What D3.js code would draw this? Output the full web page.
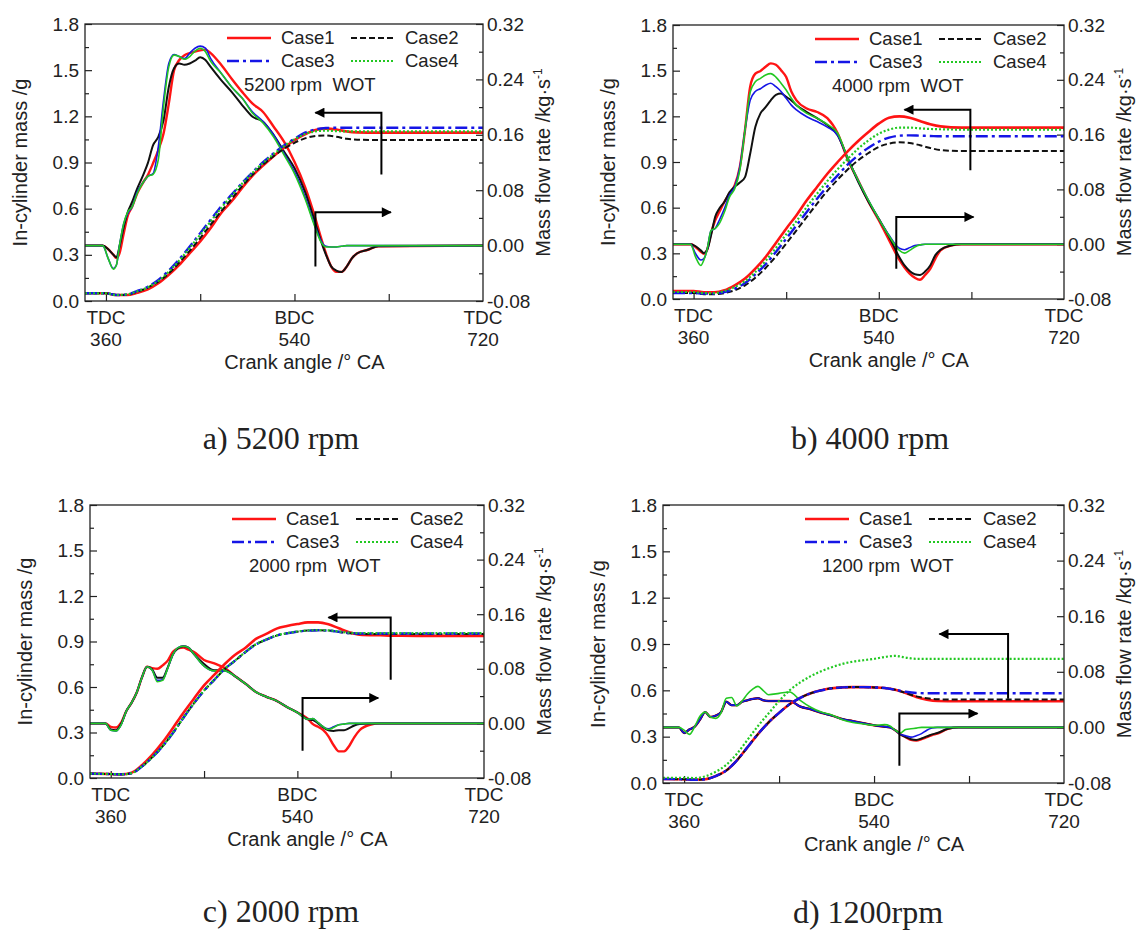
<!DOCTYPE html>
<html>
<head>
<meta charset="utf-8">
<script src="https://cdn.jsdelivr.net/npm/d3@7"></script>
<style>
  body { margin: 0; background: #fff; }
  svg text { font-family: "Liberation Sans", Arial, sans-serif; fill: #222; }
  svg text.caption { font-family: "Liberation Serif", "Times New Roman", serif; }
</style>
</head>
<body>
<div id="container"></div>
<script>
// Case names, axis ticks and labels
const cases = ["Case1", "Case2", "Case3", "Case4"];
const massTicks = [0, 0.3, 0.6, 0.9, 1.2, 1.5, 1.8];
const massMinorTicks = [0.15, 0.45, 0.75, 1.05, 1.35, 1.65];
const flowTicks = [-0.08, 0, 0.08, 0.16, 0.24, 0.32];
const flowMinorTicks = [-0.04, 0.04, 0.12, 0.2, 0.28];
const angleTicks = [360, 450, 540, 630];
const angleLabels = [360, 540, 720];
const deadCentres = ["TDC", "BDC", "TDC"];

const massAngles = [340, 360, 370, 380, 390, 400, 410, 420, 430, 440, 450, 460, 470, 480, 490, 500, 510, 520, 530, 540, 550, 560, 570, 580, 590, 600, 620, 640, 680, 720];
const flowAnglesAB = [340, 357, 362, 367, 370, 373, 377, 381, 385, 390, 395, 400, 405, 410, 415, 420, 425, 430, 435, 440, 445, 450, 455, 460, 470, 480, 490, 500, 510, 520, 530, 540, 550, 560, 565, 570, 575, 580, 585, 590, 595, 600, 610, 620, 720];
const flowAnglesCD = [340, 355, 360, 365, 370, 375, 380, 385, 390, 395, 400, 405, 410, 415, 420, 425, 430, 435, 440, 450, 460, 470, 480, 490, 500, 510, 520, 530, 540, 550, 555, 560, 565, 570, 575, 580, 585, 590, 595, 600, 610, 620, 720];

// a) 5200 rpm - mass flow rate (kg/s)
const flowA1 = [0, 0, -0.005, -0.013, -0.018, -0.011, 0.018, 0.044, 0.056, 0.076, 0.090, 0.102, 0.119, 0.138, 0.162, 0.205, 0.253, 0.268, 0.275, 0.278, 0.280, 0.282, 0.283, 0.278, 0.261, 0.241, 0.222, 0.205, 0.193, 0.172, 0.150, 0.121, 0.085, 0.039, 0.013, -0.011, -0.030, -0.038, -0.038, -0.030, -0.018, -0.011, -0.006, -0.001, 0];
const flowA2 = [0, 0, -0.005, -0.013, -0.017, -0.001, 0.027, 0.049, 0.063, 0.083, 0.100, 0.119, 0.145, 0.157, 0.181, 0.229, 0.256, 0.263, 0.261, 0.263, 0.267, 0.272, 0.268, 0.258, 0.239, 0.222, 0.203, 0.186, 0.179, 0.160, 0.136, 0.112, 0.078, 0.032, 0.008, -0.013, -0.030, -0.036, -0.038, -0.030, -0.018, -0.011, -0.006, -0.001, 0];
const flowA3 = [0, 0, -0.018, -0.033, -0.028, 0.001, 0.032, 0.047, 0.056, 0.078, 0.090, 0.100, 0.104, 0.143, 0.210, 0.263, 0.276, 0.273, 0.270, 0.278, 0.285, 0.288, 0.285, 0.270, 0.249, 0.229, 0.213, 0.193, 0.179, 0.160, 0.133, 0.107, 0.071, 0.027, 0.008, -0.001, -0.002, -0.002, -0.001, 0, 0, 0, 0, 0, 0];
const flowA4 = [0, 0, -0.018, -0.034, -0.028, 0.001, 0.032, 0.049, 0.056, 0.076, 0.090, 0.100, 0.103, 0.124, 0.201, 0.258, 0.275, 0.273, 0.269, 0.273, 0.281, 0.285, 0.280, 0.266, 0.249, 0.229, 0.213, 0.191, 0.177, 0.157, 0.131, 0.104, 0.068, 0.025, 0.006, -0.002, -0.002, -0.002, -0.001, 0, 0, 0, 0, 0, 0];
// a) 5200 rpm - in-cylinder mass (g)
const massA1 = [0.050, 0.050, 0.039, 0.039, 0.054, 0.076, 0.115, 0.170, 0.235, 0.311, 0.387, 0.474, 0.572, 0.648, 0.735, 0.815, 0.880, 0.941, 0.996, 1.046, 1.083, 1.111, 1.120, 1.115, 1.102, 1.096, 1.094, 1.094, 1.094, 1.094];
const massA2 = [0.050, 0.050, 0.039, 0.041, 0.061, 0.087, 0.126, 0.180, 0.250, 0.326, 0.409, 0.496, 0.583, 0.663, 0.746, 0.822, 0.887, 0.941, 0.989, 1.028, 1.057, 1.072, 1.076, 1.067, 1.054, 1.048, 1.046, 1.046, 1.046, 1.046];
const massA3 = [0.050, 0.050, 0.039, 0.043, 0.065, 0.093, 0.137, 0.198, 0.272, 0.354, 0.441, 0.528, 0.615, 0.691, 0.767, 0.837, 0.902, 0.959, 1.011, 1.054, 1.094, 1.115, 1.124, 1.126, 1.126, 1.126, 1.126, 1.126, 1.126, 1.126];
const massA4 = [0.050, 0.050, 0.039, 0.043, 0.063, 0.089, 0.130, 0.191, 0.263, 0.346, 0.430, 0.517, 0.604, 0.685, 0.763, 0.833, 0.898, 0.954, 1.007, 1.050, 1.085, 1.102, 1.107, 1.104, 1.102, 1.102, 1.102, 1.102, 1.102, 1.102];

// b) 4000 rpm
const flowB1 = [0, 0, -0.004, -0.011, -0.014, -0.009, 0.016, 0.035, 0.047, 0.062, 0.074, 0.086, 0.113, 0.167, 0.230, 0.249, 0.253, 0.259, 0.264, 0.262, 0.254, 0.244, 0.223, 0.210, 0.198, 0.193, 0.184, 0.162, 0.123, 0.093, 0.062, 0.035, 0.006, -0.023, -0.034, -0.043, -0.049, -0.052, -0.045, -0.036, -0.021, -0.009, -0.002, 0, 0];
const flowB2 = [0, 0, -0.003, -0.009, -0.013, -0.009, 0.013, 0.040, 0.052, 0.062, 0.076, 0.084, 0.090, 0.098, 0.132, 0.171, 0.191, 0.200, 0.210, 0.218, 0.220, 0.215, 0.210, 0.203, 0.193, 0.184, 0.174, 0.159, 0.125, 0.091, 0.062, 0.037, 0.011, -0.019, -0.031, -0.039, -0.044, -0.045, -0.040, -0.031, -0.016, -0.008, -0.002, 0, 0];
const flowB3 = [0, 0, -0.014, -0.023, -0.021, -0.009, 0.020, 0.023, 0.035, 0.052, 0.072, 0.084, 0.113, 0.167, 0.210, 0.223, 0.227, 0.232, 0.235, 0.230, 0.223, 0.213, 0.203, 0.196, 0.186, 0.179, 0.171, 0.159, 0.125, 0.093, 0.064, 0.037, 0.013, -0.006, -0.008, -0.005, -0.002, -0.001, 0, 0, 0, 0, 0, 0, 0];
const flowB4 = [0, 0, -0.019, -0.031, -0.023, -0.009, 0.020, 0.023, 0.030, 0.047, 0.069, 0.081, 0.108, 0.167, 0.222, 0.237, 0.242, 0.247, 0.249, 0.244, 0.235, 0.225, 0.213, 0.203, 0.191, 0.184, 0.175, 0.162, 0.125, 0.093, 0.064, 0.037, 0.012, -0.009, -0.013, -0.009, -0.004, -0.001, 0, 0, 0, 0, 0, 0, 0];
const massB1 = [0.053, 0.053, 0.044, 0.044, 0.057, 0.090, 0.134, 0.199, 0.276, 0.368, 0.462, 0.550, 0.648, 0.736, 0.823, 0.900, 0.972, 1.038, 1.097, 1.152, 1.191, 1.200, 1.191, 1.169, 1.148, 1.134, 1.126, 1.126, 1.126, 1.126];
const massB2 = [0.039, 0.039, 0.031, 0.031, 0.039, 0.057, 0.090, 0.140, 0.204, 0.280, 0.364, 0.451, 0.539, 0.626, 0.710, 0.784, 0.852, 0.911, 0.959, 0.999, 1.021, 1.029, 1.025, 1.010, 0.992, 0.979, 0.972, 0.972, 0.972, 0.972];
const massB3 = [0.039, 0.039, 0.035, 0.035, 0.046, 0.068, 0.105, 0.162, 0.228, 0.309, 0.396, 0.484, 0.572, 0.659, 0.740, 0.812, 0.885, 0.944, 0.994, 1.034, 1.060, 1.073, 1.075, 1.073, 1.071, 1.069, 1.069, 1.069, 1.069, 1.069];
const massB4 = [0.046, 0.046, 0.039, 0.039, 0.053, 0.079, 0.118, 0.177, 0.250, 0.335, 0.425, 0.512, 0.604, 0.692, 0.775, 0.852, 0.922, 0.988, 1.042, 1.086, 1.113, 1.126, 1.126, 1.121, 1.117, 1.115, 1.113, 1.113, 1.113, 1.113];

// c) 2000 rpm
const flowC1 = [0, 0, -0.005, -0.006, 0.001, 0.018, 0.030, 0.045, 0.067, 0.083, 0.081, 0.080, 0.085, 0.092, 0.105, 0.110, 0.111, 0.108, 0.105, 0.093, 0.088, 0.081, 0.069, 0.058, 0.046, 0.039, 0.033, 0.024, 0.016, 0.007, -0.001, -0.005, -0.010, -0.019, -0.032, -0.041, -0.041, -0.033, -0.020, -0.010, -0.002, 0, 0];
const flowC2 = [0, 0, -0.009, -0.010, -0.001, 0.018, 0.030, 0.045, 0.067, 0.083, 0.079, 0.067, 0.067, 0.082, 0.101, 0.110, 0.113, 0.111, 0.102, 0.087, 0.078, 0.078, 0.069, 0.058, 0.046, 0.039, 0.033, 0.024, 0.016, 0.006, 0.005, 0, -0.006, -0.010, -0.011, -0.010, -0.010, -0.007, -0.003, -0.001, 0, 0, 0];
const flowC3 = [0, 0, -0.010, -0.011, -0.002, 0.018, 0.030, 0.045, 0.067, 0.083, 0.078, 0.063, 0.064, 0.081, 0.101, 0.111, 0.113, 0.111, 0.102, 0.084, 0.077, 0.077, 0.069, 0.058, 0.046, 0.039, 0.033, 0.024, 0.016, 0.006, 0.007, 0.001, -0.005, -0.008, -0.005, -0.002, -0.001, 0, 0, 0, 0, 0, 0];
const flowC4 = [0, 0, -0.010, -0.011, -0.002, 0.018, 0.030, 0.045, 0.067, 0.083, 0.078, 0.061, 0.063, 0.081, 0.101, 0.111, 0.113, 0.111, 0.102, 0.084, 0.077, 0.077, 0.069, 0.058, 0.046, 0.039, 0.033, 0.024, 0.016, 0.006, 0.007, 0.001, -0.005, -0.009, -0.006, -0.002, -0.001, 0, 0, 0, 0, 0, 0];
const massC1 = [0.029, 0.026, 0.024, 0.035, 0.084, 0.152, 0.235, 0.330, 0.429, 0.521, 0.611, 0.681, 0.752, 0.813, 0.859, 0.917, 0.950, 0.985, 1.002, 1.015, 1.026, 1.026, 1.013, 0.987, 0.961, 0.945, 0.941, 0.938, 0.937, 0.937];
const massC2 = [0.029, 0.026, 0.024, 0.031, 0.075, 0.136, 0.209, 0.297, 0.396, 0.490, 0.576, 0.648, 0.719, 0.774, 0.831, 0.881, 0.912, 0.939, 0.954, 0.965, 0.972, 0.974, 0.972, 0.963, 0.954, 0.950, 0.950, 0.950, 0.950, 0.950];
const massC3 = [0.029, 0.026, 0.024, 0.031, 0.075, 0.136, 0.209, 0.297, 0.396, 0.490, 0.576, 0.648, 0.719, 0.774, 0.831, 0.881, 0.912, 0.939, 0.954, 0.965, 0.972, 0.974, 0.972, 0.964, 0.956, 0.953, 0.953, 0.953, 0.953, 0.953];
const massC4 = [0.029, 0.026, 0.024, 0.032, 0.076, 0.137, 0.210, 0.298, 0.397, 0.491, 0.577, 0.649, 0.720, 0.775, 0.832, 0.882, 0.913, 0.940, 0.955, 0.966, 0.973, 0.975, 0.973, 0.966, 0.958, 0.955, 0.955, 0.955, 0.955, 0.955];

// d) 1200 rpm
const flowD1 = [0, 0, -0.008, -0.003, 0.001, 0.011, 0.022, 0.015, 0.017, 0.022, 0.037, 0.032, 0.032, 0.037, 0.039, 0.041, 0.042, 0.039, 0.038, 0.038, 0.038, 0.030, 0.026, 0.021, 0.017, 0.012, 0.009, 0.006, 0.003, 0.001, 0, -0.004, -0.010, -0.014, -0.018, -0.019, -0.017, -0.014, -0.011, -0.009, -0.002, 0, 0];
const flowD2 = [0, 0, -0.008, -0.003, 0.001, 0.011, 0.022, 0.015, 0.017, 0.022, 0.037, 0.032, 0.032, 0.037, 0.039, 0.041, 0.042, 0.039, 0.038, 0.038, 0.038, 0.030, 0.026, 0.021, 0.017, 0.012, 0.009, 0.006, 0.003, 0.001, 0, -0.004, -0.010, -0.014, -0.017, -0.018, -0.016, -0.013, -0.010, -0.008, -0.002, 0, 0];
const flowD3 = [0, 0, -0.008, -0.003, 0.001, 0.011, 0.022, 0.015, 0.017, 0.022, 0.037, 0.032, 0.032, 0.037, 0.039, 0.041, 0.042, 0.039, 0.038, 0.038, 0.038, 0.030, 0.026, 0.021, 0.017, 0.012, 0.009, 0.006, 0.003, 0.001, 0, -0.004, -0.010, -0.012, -0.014, -0.012, -0.009, -0.004, -0.001, 0, 0, 0, 0];
const flowD4 = [0, 0, -0.004, -0.010, 0.001, 0.016, 0.022, 0.015, 0.013, 0.021, 0.042, 0.043, 0.031, 0.038, 0.048, 0.055, 0.059, 0.053, 0.047, 0.049, 0.051, 0.039, 0.029, 0.022, 0.018, 0.011, 0.007, 0.005, 0.003, 0.004, 0.002, -0.004, -0.008, -0.003, -0.002, -0.001, 0, 0, 0, 0, 0, 0, 0];
const massD1 = [0.026, 0.024, 0.021, 0.024, 0.045, 0.081, 0.146, 0.231, 0.317, 0.392, 0.454, 0.510, 0.551, 0.581, 0.600, 0.613, 0.619, 0.621, 0.621, 0.619, 0.615, 0.604, 0.583, 0.557, 0.540, 0.531, 0.529, 0.529, 0.529, 0.529];
const massD2 = [0.026, 0.024, 0.021, 0.024, 0.045, 0.081, 0.146, 0.231, 0.317, 0.392, 0.454, 0.510, 0.551, 0.581, 0.600, 0.613, 0.619, 0.621, 0.621, 0.619, 0.615, 0.604, 0.583, 0.561, 0.549, 0.542, 0.540, 0.540, 0.540, 0.540];
const massD3 = [0.026, 0.024, 0.021, 0.024, 0.045, 0.081, 0.146, 0.231, 0.317, 0.392, 0.454, 0.510, 0.551, 0.581, 0.600, 0.613, 0.619, 0.621, 0.621, 0.619, 0.615, 0.604, 0.591, 0.583, 0.581, 0.581, 0.581, 0.581, 0.581, 0.581];
const massD4 = [0.034, 0.034, 0.032, 0.043, 0.073, 0.118, 0.189, 0.279, 0.369, 0.450, 0.531, 0.600, 0.651, 0.692, 0.724, 0.750, 0.771, 0.786, 0.795, 0.804, 0.816, 0.823, 0.812, 0.804, 0.804, 0.804, 0.804, 0.804, 0.804, 0.804];

// line styles per case (mass curves keep the dash, flow curves are solid)
const caseStyle = [
  { color: "#ff1414", width: 2.6, flowWidth: 2.4, dash: null },
  { color: "#111111", width: 2.0, flowWidth: 2.0, dash: "6,3" },
  { color: "#1515e6", width: 2.4, flowWidth: 1.6, dash: "12,4,3,4" },
  { color: "#22c822", width: 2.2, flowWidth: 1.6, dash: "2,2" }
];

const panels = [
  { left: 85, right: 483, top: 24, bottom: 301, note: "5200 rpm  WOT", caption: "a) 5200 rpm",
    capX: 281, capY: 449, xTitle: "Crank angle /° CA", flowAngles: flowAnglesAB,
    flow: [flowA1, flowA2, flowA3, flowA4], mass: [massA1, massA2, massA3, massA4],
    arrows: [[623, 0.822, 1.224, 560], [560, 0.224, 0.576, 632]] },
  { left: 673, right: 1064, top: 25, bottom: 299, note: "4000 rpm  WOT", caption: "b) 4000 rpm",
    capX: 870, capY: 449, xTitle: "Crank angle /° CA", flowAngles: flowAnglesAB,
    flow: [flowB1, flowB2, flowB3, flowB4], mass: [massB1, massB2, massB3, massB4],
    arrows: [[629, 0.845, 1.244, 565], [557, 0.199, 0.539, 632]] },
  { left: 90, right: 484, top: 505, bottom: 778, note: "2000 rpm  WOT", caption: "c) 2000 rpm",
    capX: 281, capY: 922, xTitle: "Crank angle /° CA", flowAngles: flowAnglesCD,
    flow: [flowC1, flowC2, flowC3, flowC4], mass: [massC1, massC2, massC3, massC4],
    arrows: [[630, 0.648, 1.059, 570], [545, 0.180, 0.528, 618]] },
  { left: 663, right: 1064, top: 505, bottom: 783, note: "1200 rpm  WOT", caption: "d) 1200rpm",
    capX: 868, capY: 923, xTitle: "Crank angle /°  CA", flowAngles: flowAnglesCD,
    flow: [flowD1, flowD2, flowD3, flowD4], mass: [massD1, massD2, massD3, massD4],
    arrows: [[667, 0.546, 0.964, 602], [564, 0.111, 0.450, 638]] }
];

const svg = d3
  .select("#container")
  .append("svg")
  .attr("width", 1137)
  .attr("height", 932);

svg.append("rect").attr("width", 1137).attr("height", 932).attr("fill", "#fff");

// arrow head
svg
  .append("defs")
  .append("marker")
  .attr("id", "head")
  .attr("viewBox", "0 0 10 10")
  .attr("refX", 9)
  .attr("refY", 5)
  .attr("markerWidth", 15)
  .attr("markerHeight", 10)
  .attr("markerUnits", "userSpaceOnUse")
  .attr("orient", "auto")
  .append("path")
  .attr("d", "M0,0 L10,5 L0,10 z")
  .attr("fill", "#000");

const styleAxis = (g, size) => {
  g.select(".domain").remove();
  g.selectAll(".tick line").attr("stroke", "#222").attr("stroke-width", 1.2);
  g.selectAll(".tick text")
    .attr("font-size", size)
    .attr("font-family", "Liberation Sans, Arial, sans-serif")
    .attr("fill", "#222");
};

panels.forEach((p, pi) => {
  const x = d3.scaleLinear().domain([340, 720]).range([p.left, p.right]);
  const yM = d3.scaleLinear().domain([0, 1.8]).range([p.bottom, p.top]);
  const yF = d3.scaleLinear().domain([-0.08, 0.32]).range([p.bottom, p.top]);
  const g = svg.append("g");

  g.append("clipPath")
    .attr("id", "clip" + pi)
    .append("rect")
    .attr("x", p.left)
    .attr("y", p.top)
    .attr("width", p.right - p.left)
    .attr("height", p.bottom - p.top);

  // axes (ticks point inwards)
  g.append("g")
    .attr("transform", "translate(" + p.left + ",0)")
    .call(d3.axisLeft(yM).tickValues(massTicks).tickSizeInner(-7).tickSizeOuter(0).tickPadding(6).tickFormat(d3.format(".1f")))
    .call((a) => styleAxis(a, 19));
  g.append("g")
    .attr("transform", "translate(" + p.left + ",0)")
    .call(d3.axisLeft(yM).tickValues(massMinorTicks).tickSizeInner(-4).tickSizeOuter(0).tickFormat(""))
    .call((a) => styleAxis(a, 19));
  g.append("g")
    .attr("transform", "translate(" + p.right + ",0)")
    .call(d3.axisRight(yF).tickValues(flowTicks).tickSizeInner(-7).tickSizeOuter(0).tickPadding(4).tickFormat((d) => d.toFixed(2)))
    .call((a) => styleAxis(a, 19));
  g.append("g")
    .attr("transform", "translate(" + p.right + ",0)")
    .call(d3.axisRight(yF).tickValues(flowMinorTicks).tickSizeInner(-4).tickSizeOuter(0).tickFormat(""))
    .call((a) => styleAxis(a, 19));
  g.append("g")
    .attr("transform", "translate(0," + p.bottom + ")")
    .call(d3.axisBottom(x).tickValues(angleTicks).tickSizeInner(-7).tickSizeOuter(0).tickFormat(""))
    .call((a) => styleAxis(a, 19));

  // TDC / BDC labels
  angleLabels.forEach((v, i) => {
    g.append("text")
      .attr("x", x(v))
      .attr("y", p.bottom + 23)
      .attr("text-anchor", "middle")
      .attr("font-size", 19)
      .text(deadCentres[i]);
    g.append("text")
      .attr("x", x(v))
      .attr("y", p.bottom + 45)
      .attr("text-anchor", "middle")
      .attr("font-size", 19)
      .text(v);
  });

  // axis titles
  g.append("text")
    .attr("x", x(540) + 10)
    .attr("y", p.bottom + 68)
    .attr("text-anchor", "middle")
    .attr("font-size", 20)
    .text(p.xTitle);
  g.append("text")
    .attr("transform", "translate(" + (p.left - 58) + "," + (p.top + p.bottom) / 2 + ") rotate(-90)")
    .attr("text-anchor", "middle")
    .attr("font-size", 20)
    .text("In-cylinder mass /g");
  const rt = g
    .append("text")
    .attr("transform", "translate(" + (p.right + 67) + "," + (p.top + p.bottom) / 2 + ") rotate(-90)")
    .attr("text-anchor", "middle")
    .attr("font-size", 20);
  rt.append("tspan").text("Mass flow rate /kg·s");
  rt.append("tspan").attr("dy", -8).attr("font-size", 12).text("-1");

  // curves
  const plot = g.append("g").attr("clip-path", "url(#clip" + pi + ")");
  const flowLine = d3
    .line()
    .x((d) => x(d[0]))
    .y((d) => yF(d[1]))
    .curve(d3.curveMonotoneX);
  const massLine = d3
    .line()
    .x((d) => x(d[0]))
    .y((d) => yM(d[1]))
    .curve(d3.curveMonotoneX);

  p.flow.forEach((vals, ci) => {
    plot.append("path")
      .datum(p.flowAngles.map((a, k) => [a, vals[k]]))
      .attr("fill", "none")
      .attr("stroke", caseStyle[ci].color)
      .attr("stroke-width", caseStyle[ci].flowWidth)
      .attr("stroke-linejoin", "round")
      .attr("d", flowLine);
  });
  p.mass.forEach((vals, ci) => {
    plot.append("path")
      .datum(massAngles.map((a, k) => [a, vals[k]]))
      .attr("fill", "none")
      .attr("stroke", caseStyle[ci].color)
      .attr("stroke-width", caseStyle[ci].width)
      .attr("stroke-dasharray", caseStyle[ci].dash)
      .attr("d", massLine);
  });

  // arrows pointing to the axis each family belongs to
  p.arrows.forEach(([ax, yFrom, yTo, xTo]) => {
    g.append("path")
      .attr("d", "M" + x(ax) + "," + yM(yFrom) + "V" + yM(yTo) + "H" + x(xTo))
      .attr("fill", "none")
      .attr("stroke", "#000")
      .attr("stroke-width", 2)
      .attr("marker-end", "url(#head)");
  });

  // frame
  g.append("rect")
    .attr("x", p.left)
    .attr("y", p.top)
    .attr("width", p.right - p.left)
    .attr("height", p.bottom - p.top)
    .attr("fill", "none")
    .attr("stroke", "#222")
    .attr("stroke-width", 1.3);

  // legend
  cases.forEach((c, ci) => {
    const lx = p.left + (ci % 2 === 0 ? 142 : 266);
    const ly = p.top + (ci < 2 ? 14 : 37);
    g.append("line")
      .attr("x1", lx)
      .attr("x2", lx + 44)
      .attr("y1", ly)
      .attr("y2", ly)
      .attr("stroke", caseStyle[ci].color)
      .attr("stroke-width", caseStyle[ci].width)
      .attr("stroke-dasharray", caseStyle[ci].dash);
    g.append("text")
      .attr("x", lx + 54)
      .attr("y", ly)
      .attr("dy", "0.35em")
      .attr("font-size", 18.5)
      .text(c);
  });
  g.append("text")
    .attr("x", p.left + 159)
    .attr("y", p.top + 61)
    .attr("dy", "0.35em")
    .attr("font-size", 18.5)
    .style("white-space", "pre")
    .text(p.note);

  // sub-figure caption
  svg.append("text")
    .attr("class", "caption")
    .attr("x", p.capX)
    .attr("y", p.capY)
    .attr("text-anchor", "middle")
    .attr("font-size", 32)
    .text(p.caption);
});
</script>
</body>
</html>
